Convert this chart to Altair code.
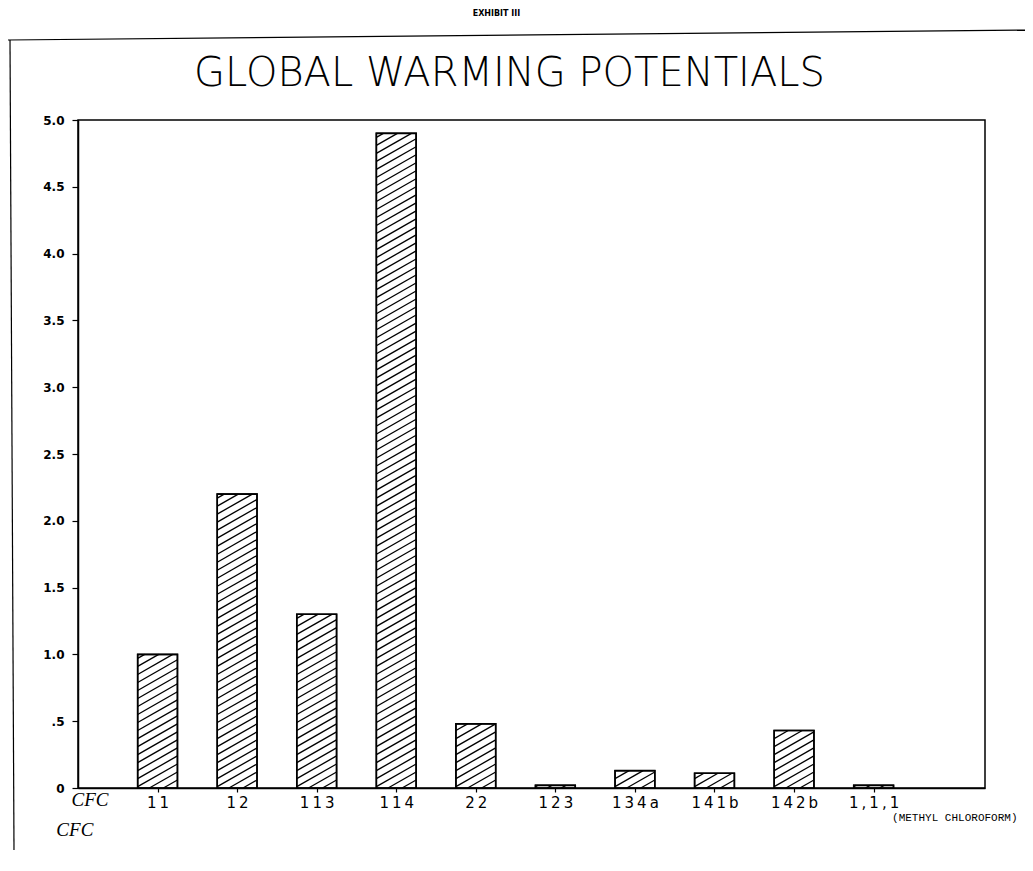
import json
import altair as alt
import pandas as pd

# ---- data ----
categories = ["11", "12", "113", "114", "22", "123", "134a", "141b", "142b", "1,1,1"]
gwp = [1.0, 2.2, 1.3, 4.9, 0.48, 0.02, 0.13, 0.11, 0.43, 0.02]
y_ticks = [0, 0.5, 1.0, 1.5, 2.0, 2.5, 3.0, 3.5, 4.0, 4.5, 5.0]
y_tick_labels = ["0", ".5", "1.0", "1.5", "2.0", "2.5", "3.0", "3.5", "4.0", "4.5", "5.0"]
title_text = "GLOBAL WARMING POTENTIALS"
header_text = "EXHIBIT III"
note_text = ["CFC", "CFC", "(METHYL CHLOROFORM)"]

# ---- tables built from the arrays ----
positions = list(range(1, len(categories) + 1))
half = 0.25
bars = pd.DataFrame({"cat": categories, "pos": positions, "gwp": gwp})
bars["x0"] = bars["pos"] - half
bars["x1"] = bars["pos"] + half
bars["base"] = 0.0

# diagonal hatch lines clipped to each bar (in data units)
rise, step = 0.17, 0.06
rows = []
for p, v in zip(positions, gwp):
    a = -rise
    while a < v:
        y1 = max(a, 0.0)
        y2 = min(a + rise, v)
        if y2 > y1:
            xa = p - half + (y1 - a) / rise * 2 * half
            xb = p - half + (y2 - a) / rise * 2 * half
            rows.append({"xa": xa, "xb": xb, "ya": y1, "yb": y2})
        a += step
hatch = pd.DataFrame(rows)

notes = pd.DataFrame({"t": note_text, "x": [0.15, -0.04, 11.02]})
heads = pd.DataFrame({"t": [header_text, title_text]})

W, H = 907, 668
xscale = alt.Scale(domain=[0, 11.4], nice=False, zero=False)
yscale = alt.Scale(domain=[0, 5], nice=False)

x_axis = alt.Axis(
    values=positions,
    labelExpr=f"join(split({json.dumps(categories)}[datum.value - 1], ''), '\u2009')",
    title=None, grid=False, domainColor="black", domainWidth=1.5,
    tickColor="black", tickSize=4, tickWidth=1.2,
    labelFont="DejaVu Sans", labelFontSize=15, labelColor="black",
    labelPadding=3, labelFlush=False,
)
y_axis = alt.Axis(
    values=y_ticks,
    labelExpr=f"{json.dumps(y_tick_labels)}[round(datum.value * 2)]",
    title=None, grid=False, domainColor="black", domainWidth=1.5,
    tickColor="black", tickSize=6, tickWidth=1.2,
    labelFont="DejaVu Sans", labelFontWeight="bold", labelFontSize=12,
    labelColor="black", labelPadding=8,
)

bar_fill = alt.Chart(bars).mark_bar(fill="white", stroke="black", strokeWidth=1.5).encode(
    x=alt.X("x0:Q", scale=xscale, axis=x_axis),
    x2="x1:Q",
    y=alt.Y("gwp:Q", scale=yscale, axis=y_axis),
    y2="base:Q",
)

hatch_layer = alt.Chart(hatch).mark_rule(color="black", strokeWidth=1.3).encode(
    x=alt.X("xa:Q", scale=xscale),
    x2="xb:Q",
    y=alt.Y("ya:Q", scale=yscale),
    y2="yb:Q",
)

bar_outline = alt.Chart(bars).mark_bar(filled=False, stroke="black", strokeWidth=1.6).encode(
    x=alt.X("x0:Q", scale=xscale),
    x2="x1:Q",
    y=alt.Y("gwp:Q", scale=yscale),
    y2="base:Q",
)

cfc1 = alt.Chart(notes.iloc[[0]]).mark_text(
    font="Liberation Serif", fontStyle="italic", fontSize=19, color="black", baseline="top"
).encode(x=alt.X("x:Q", scale=xscale), y=alt.value(H + 3), text="t:N")

cfc2 = alt.Chart(notes.iloc[[1]]).mark_text(
    font="Liberation Serif", fontStyle="italic", fontSize=19, color="black", baseline="top"
).encode(x=alt.X("x:Q", scale=xscale), y=alt.value(H + 33), text="t:N")

methyl = alt.Chart(notes.iloc[[2]]).mark_text(
    font="Liberation Mono", fontSize=11, color="black", baseline="top"
).encode(x=alt.X("x:Q", scale=xscale), y=alt.value(H + 24), text="t:N")

header = alt.Chart(heads.iloc[[0]]).mark_text(
    font="DejaVu Sans", fontWeight="bold", fontSize=8, color="black", baseline="top"
).encode(x=alt.value(W / 2 - 35), y=alt.value(-110), text="t:N")

big_title = alt.Chart(heads.iloc[[1]]).mark_text(
    font="DejaVu Sans", fontWeight=200, fontSize=40, color="black", baseline="middle"
).encode(x=alt.value(W / 2 - 22), y=alt.value(-46), text="t:N")

frame_df = pd.DataFrame({"k": [0]})
frame_top = alt.Chart(frame_df).mark_rule(color="black", strokeWidth=1.2).encode(
    x=alt.value(-70), x2=alt.value(W + 45), y=alt.value(-80), y2=alt.value(-90)
)
frame_left = alt.Chart(frame_df).mark_rule(color="black", strokeWidth=1.2).encode(
    x=alt.value(-68), x2=alt.value(-64), y=alt.value(-80), y2=alt.value(H + 62)
)

chart = alt.layer(
    bar_fill, hatch_layer, bar_outline, cfc1, cfc2, methyl,
    header, big_title, frame_top, frame_left
).properties(
    width=W,
    height=H,
    padding={"left": 70, "top": 112, "right": 40, "bottom": 75},
    autosize=alt.AutoSizeParams(type="none"),
).configure_view(stroke="black", strokeWidth=1.5)

chart.save("out.html", embed_options={"renderer": "svg", "actions": False})
